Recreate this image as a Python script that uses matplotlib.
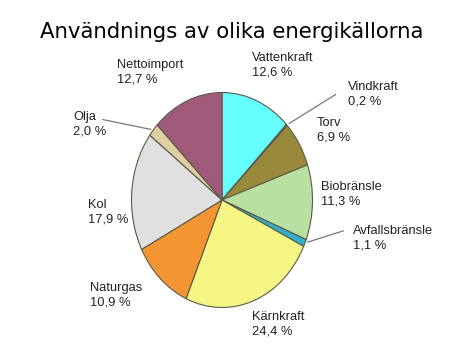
import numpy as np
import matplotlib
matplotlib.use("Agg")
import matplotlib.pyplot as plt

# energy sources, clockwise from the top
sources = ["Vattenkraft", "Vindkraft", "Torv", "Biobränsle", "Avfallsbränsle",
           "Kärnkraft", "Naturgas", "Kol", "Olja", "Nettoimport"]
shares = [12.6, 0.2, 6.9, 11.3, 1.1, 24.4, 10.9, 17.9, 2.0, 12.7]
share_labels = ["12,6 %", "0,2 %", "6,9 %", "11,3 %", "1,1 %",
                "24,4 %", "10,9 %", "17,9 %", "2,0 %", "12,7 %"]
colors = ["#66FFFF", "#3C8C50", "#988A3A", "#B8E0A0", "#30B0C8",
          "#F6F684", "#F39530", "#E0E0E0", "#E0CFA0", "#9E5A78"]

W, H = 474, 355
# label top-left corners in pixels (from top)
label_pos = [(252, 52), (348, 81), (317, 117), (321, 181), (353, 225),
             (252, 311), (90, 282), (88, 199), (73, 111), (117, 59)]
leaders = {"Vindkraft": (338, 93), "Avfallsbränsle": (346, 230), "Olja": (100, 119)}

fig = plt.figure(figsize=(W / 100, H / 100), dpi=100)
fig.patch.set_facecolor("white")

# elliptical pie: center (222, 200), rx 90.5, ry 107.5 px
cx, cy, rx, ry = 222, 200, 90.5, 107.5
ax = fig.add_axes([(cx - rx) / W, (H - cy - ry) / H, 2 * rx / W, 2 * ry / H])
wedges, _ = ax.pie(shares, colors=colors, startangle=90, counterclock=False,
                   wedgeprops=dict(edgecolor="#5a5a4a", linewidth=0.8))
ax.set_aspect("auto")
ax.set_xlim(-1, 1)
ax.set_ylim(-1, 1)
ax.axis("off")

fig.text(232 / W, 1 - 32 / H, "Användnings av olika energikällorna",
         ha="center", va="center", fontsize=15.3, family="DejaVu Sans")

for name, pct, (px, py), w in zip(sources, share_labels, label_pos, wedges):
    fig.text(px / W, 1 - py / H, name + "\n" + pct, ha="left", va="top",
             fontsize=9.3, family="Liberation Sans", color="#222222", linespacing=1.3)
    if name in leaders:
        mid = np.deg2rad((w.theta1 + w.theta2) / 2)
        lx, ly = leaders[name]
        ax.annotate("", xy=(np.cos(mid), np.sin(mid)), xycoords="data",
                    xytext=(lx / W, 1 - ly / H), textcoords="figure fraction",
                    arrowprops=dict(arrowstyle="-", color="#777777", lw=0.9))

fig.savefig("out.png", dpi=100)
